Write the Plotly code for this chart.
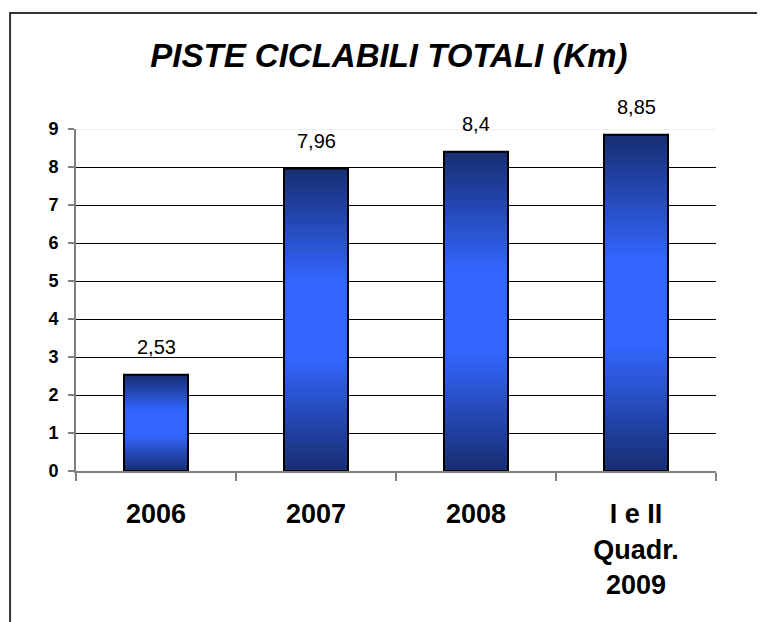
import plotly.graph_objects as go

categories = ["2006", "2007", "2008", "I e II<br>Quadr.<br>2009"]
values = [2.53, 7.96, 8.4, 8.85]
value_labels = ["2,53", "7,96", "8,4", "8,85"]
y_ticks = [0, 1, 2, 3, 4, 5, 6, 7, 8, 9]

DARK = (24, 46, 112)
BRIGHT = (51, 102, 255)
N = 60
FONT = "Liberation Sans, Arial"

fig = go.Figure()
for i in range(N):
    t = (i + 0.5) / N
    k = 1 - abs(2 * t - 1)
    k = min(1.0, k * 1.35)
    c = tuple(int(DARK[j] + (BRIGHT[j] - DARK[j]) * k) for j in range(3))
    ext = 1.8 if i < N - 1 else 1.0
    fig.add_trace(go.Bar(
        x=categories,
        y=[v / N * ext for v in values],
        base=[v * i / N for v in values],
        marker=dict(color="rgb(%d,%d,%d)" % c, line=dict(width=0)),
        width=0.4,
        showlegend=False,
        hoverinfo="skip",
    ))

fig.add_trace(go.Bar(
    x=categories,
    y=values,
    base=[0] * len(values),
    marker=dict(color="rgba(0,0,0,0)", line=dict(color="black", width=2)),
    width=0.4,
    showlegend=False,
))

annotations = [
    dict(x=idx, y=v, xref="x", yref="y", text=lab, showarrow=False,
         yanchor="bottom", yshift=15,
         font=dict(family=FONT, size=20, color="black"))
    for idx, (v, lab) in enumerate(zip(values, value_labels))
]

fig.update_layout(
    barmode="overlay",
    width=765,
    height=622,
    margin=dict(l=68, r=57, t=121, b=159),
    paper_bgcolor="white",
    plot_bgcolor="white",
    font=dict(family=FONT, color="black"),
    title=dict(
        text="<b><i>PISTE CICLABILI TOTALI (Km)</i></b>",
        x=0.498, xanchor="center", y=0.924, yanchor="middle",
        font=dict(size=33, family=FONT, color="black"),
    ),
    annotations=annotations,
    xaxis=dict(
        type="category",
        categoryorder="array",
        categoryarray=categories,
        range=[-0.5, len(categories) - 0.5],
        tickson="boundaries",
        ticks="outside",
        ticklen=8,
        tickcolor="#808080",
        tickwidth=2,
        showline=True,
        linecolor="#808080",
        linewidth=2,
        showgrid=False,
        tickangle=0,
        tickfont=dict(size=27, family=FONT, color="black", weight="bold"),
        ticklabelstandoff=18,
    ),
    yaxis=dict(
        range=[0, 9],
        tickvals=y_ticks,
        ticks="outside",
        ticklen=6,
        tickcolor="#808080",
        tickwidth=2,
        showline=True,
        linecolor="#808080",
        linewidth=2,
        showgrid=False,
        zeroline=False,
        tickfont=dict(size=18, family=FONT, color="black", weight="bold"),
        ticklabelstandoff=6,
        minor=dict(tickvals=y_ticks[1:-1], showgrid=True, gridcolor="black", gridwidth=1, ticks=""),
    ),
    shapes=[
        dict(type="line", xref="paper", yref="y", x0=0, x1=1, y0=y_ticks[-1], y1=y_ticks[-1],
             line=dict(color="#dddddd", width=1), layer="below"),
        dict(type="rect", xref="paper", yref="paper", x0=-0.103, x1=1.2, y0=-0.6, y1=1.339,
             line=dict(color="#333333", width=2), fillcolor="rgba(0,0,0,0)", layer="above"),
    ],
)

fig.write_html("out.html")
